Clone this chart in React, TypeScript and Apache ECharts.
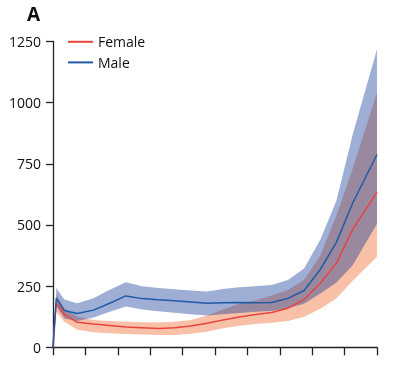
import React, { useEffect, useRef } from "react";
import * as echarts from "echarts";

const lineAges = [0, 1, 3.5, 7.5, 12.5, 17.5, 22.5, 27.5, 32.5, 37.5, 42.5, 47.5, 52.5, 57.5, 62.5, 67.5, 72.5, 77.5, 82.5, 87.5, 92.5, 100];
const femaleMean = [0, 180, 135, 102, 95, 89, 83, 80, 77, 80, 87, 98, 112, 124, 134, 142, 160, 195, 262, 345, 482, 634];
const maleMean = [0, 200, 150, 138, 152, 180, 210, 199, 194, 190, 185, 180, 182, 183, 182, 183, 200, 232, 318, 430, 590, 788];

const bandAges = [1, 3.5, 7.5, 12.5, 17.5, 22.5, 27.5, 32.5, 37.5, 42.5, 47.5, 52.5, 57.5, 62.5, 67.5, 72.5, 77.5, 82.5, 87.5, 92.5, 100];
const femaleLower = [145, 104, 72, 62, 57, 54, 52, 50, 50, 55, 64, 78, 88, 95, 100, 108, 125, 158, 200, 272, 370];
const femaleUpper = [220, 160, 125, 112, 107, 104, 102, 101, 104, 112, 130, 155, 178, 192, 212, 234, 275, 375, 540, 730, 1040];
const maleLower = [170, 118, 108, 122, 145, 167, 155, 147, 141, 135, 130, 135, 140, 145, 148, 160, 178, 220, 265, 335, 505];
const maleUpper = [242, 195, 180, 200, 235, 266, 250, 242, 237, 232, 228, 238, 245, 250, 255, 275, 322, 440, 600, 870, 1218];

const yTicks = [0, 250, 500, 750, 1000, 1250];

const FEMALE = "#e8453c";
const MALE = "#1f5ba6";
const FONT = "'Open Sans', 'Noto Sans', sans-serif";

function bandSeries(name: string, lo: number[], hi: number[], fill: string, z: number) {
  return {
    name,
    type: "custom",
    silent: true,
    z,
    data: bandAges.map((a, i) => [a, lo[i], hi[i]]),
    encode: { x: 0, y: [1, 2] },
    renderItem: (params: any, api: any) => {
      if (params.dataIndex !== 0) return null;
      const pts: number[][] = [];
      for (let i = 0; i < bandAges.length; i++) pts.push(api.coord([bandAges[i], hi[i]]));
      for (let i = bandAges.length - 1; i >= 0; i--) pts.push(api.coord([bandAges[i], lo[i]]));
      return { type: "polygon", shape: { points: pts }, style: { fill } };
    },
  };
}

export default function App() {
  const ref = useRef<HTMLDivElement>(null);
  useEffect(() => {
    if (!ref.current) return;
    const chart = echarts.init(ref.current, null, { renderer: "svg" });
    const pair = (xs: number[], ys: number[]) => xs.map((x, i) => [x, ys[i]]);
    chart.setOption({
      animation: false,
      textStyle: { fontFamily: FONT },
      title: {
        text: "A",
        left: 27,
        top: 4,
        padding: 0,
        textStyle: { fontSize: 19, fontWeight: "bold", color: "#111", fontFamily: FONT },
      },
      legend: {
        data: ["Female", "Male"],
        orient: "vertical",
        left: 68,
        top: 31.5,
        padding: 0,
        itemGap: 0,
        icon: "rect",
        itemWidth: 25,
        itemHeight: 2,
        textStyle: { fontSize: 14, color: "#111", lineHeight: 20.6, fontFamily: FONT },
      },
      grid: { left: 53, right: 25, top: 41.5, bottom: 34.7, containLabel: false },
      xAxis: {
        type: "value",
        min: 0,
        max: 100,
        interval: 10,
        axisLine: { lineStyle: { color: "#222", width: 1.3 } },
        axisTick: { show: true, length: 8, lineStyle: { color: "#222", width: 1.3 } },
        axisLabel: { show: false },
        splitLine: { show: false },
      },
      yAxis: {
        type: "value",
        min: yTicks[0],
        max: yTicks[yTicks.length - 1],
        interval: 250,
        axisLine: { show: true, lineStyle: { color: "#222", width: 1.3 } },
        axisTick: { show: true, length: 7, lineStyle: { color: "#222", width: 1.3 } },
        axisLabel: { fontSize: 14, color: "#111", margin: 12, fontFamily: FONT, formatter: (v: number) => String(v) },
        splitLine: { show: false },
      },
      series: [
        bandSeries("femaleBand", femaleLower, femaleUpper, "rgba(243,129,81,0.5)", 1),
        bandSeries("maleBand", maleLower, maleUpper, "rgba(12,52,147,0.4)", 2),
        {
          name: "Female",
          type: "line",
          data: pair(lineAges, femaleMean),
          symbol: "none",
          itemStyle: { color: FEMALE },
          lineStyle: { color: FEMALE, width: 1.5 },
          z: 5,
        },
        {
          name: "Male",
          type: "line",
          data: pair(lineAges, maleMean),
          symbol: "none",
          itemStyle: { color: MALE },
          lineStyle: { color: MALE, width: 1.5 },
          z: 5,
        },
      ],
    });
    return () => chart.dispose();
  }, []);
  return <div ref={ref} style={{ position: "fixed", left: 0, top: 0, width: 402, height: 382 }} />;
}
